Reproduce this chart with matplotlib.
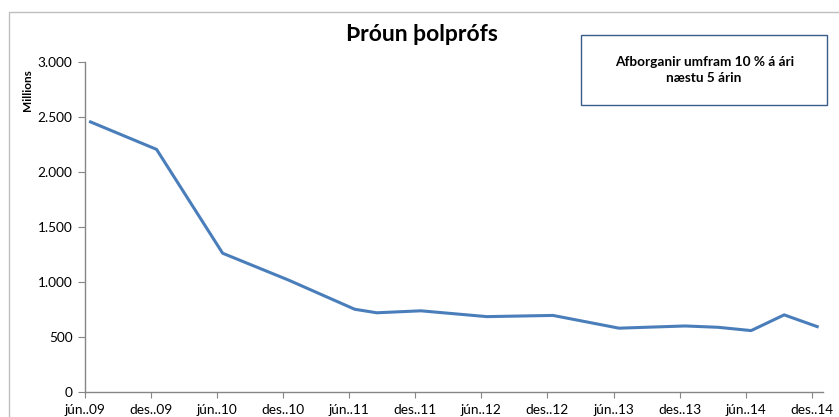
import numpy as np
import matplotlib.pyplot as plt
from matplotlib.patches import Rectangle
from matplotlib.ticker import FuncFormatter

# months after jún..09 (data points sit mid-month on the date axis)
months = [0, 6, 12, 18, 24, 26, 30, 36, 42, 48, 54, 57, 60, 63, 66]
values = [2455, 2205, 1260, 1015, 750, 718, 736, 683, 694, 578, 598, 586, 556, 699, 592]

tick_months = [0, 6, 12, 18, 24, 30, 36, 42, 48, 54, 60, 66]
tick_labels = ["jún..09", "des..09", "jún..10", "des..10", "jún..11", "des..11",
               "jún..12", "des..12", "jún..13", "des..13", "jún..14", "des..14"]

plt.rcParams["font.family"] = ["Lato", "DejaVu Sans"]

fig = plt.figure(figsize=(8.39, 4.17), dpi=100)
ax = fig.add_axes([0.1013, 0.0607, 0.8793, 0.7906])

x = np.array(months) + 0.5
ax.plot(x, values, color="#4A7EBB", linewidth=2.2, solid_joinstyle="round")

ax.set_xlim(0, 67)
ax.set_ylim(0, 3000)
ax.set_yticks(np.arange(0, 3001, 500))
ax.yaxis.set_major_formatter(FuncFormatter(lambda v, p: f"{int(v):,}".replace(",", ".")))
ax.set_xticks(tick_months)
ax.set_xticklabels(tick_labels)

for s in ["top", "right"]:
    ax.spines[s].set_visible(False)
for s in ["left", "bottom"]:
    ax.spines[s].set_color("#868686")
    ax.spines[s].set_linewidth(1.0)
ax.tick_params(axis="y", length=5, color="#868686", labelsize=9.8, pad=4)
ax.tick_params(axis="x", length=4, color="#868686", labelsize=9.8, pad=5)

ax.set_ylabel("Millions", fontsize=8.5, fontweight="bold")
ax.yaxis.set_label_coords(-0.07, 0.915)

fig.text(0.503, 0.918, "Þróun þolprófs", ha="center", va="center",
         fontsize=16.5, fontweight="bold")

# annotation box
box = Rectangle((581 / 839, 1 - 104.7 / 417), (827.3 - 581) / 839, 70 / 417,
                transform=fig.transFigure, facecolor="white",
                edgecolor="#385D8A", linewidth=1.0)
fig.add_artist(box)
fig.text((581 + 827.3) / 2 / 839, 1 - 70 / 417,
         "Afborganir umfram 10 % á ári\nnæstu 5 árin",
         ha="center", va="center", fontsize=9.8, fontweight="bold",
         linespacing=1.35)

# outer chart-area border (only top and left visible)
frame = Rectangle((9 / 839, -0.2), 1.2, 1.2 - 12 / 417,
                  transform=fig.transFigure, fill=False,
                  edgecolor="#BFBFBF", linewidth=1.0, clip_on=False)
fig.add_artist(frame)

fig.savefig("out.png", dpi=100)
